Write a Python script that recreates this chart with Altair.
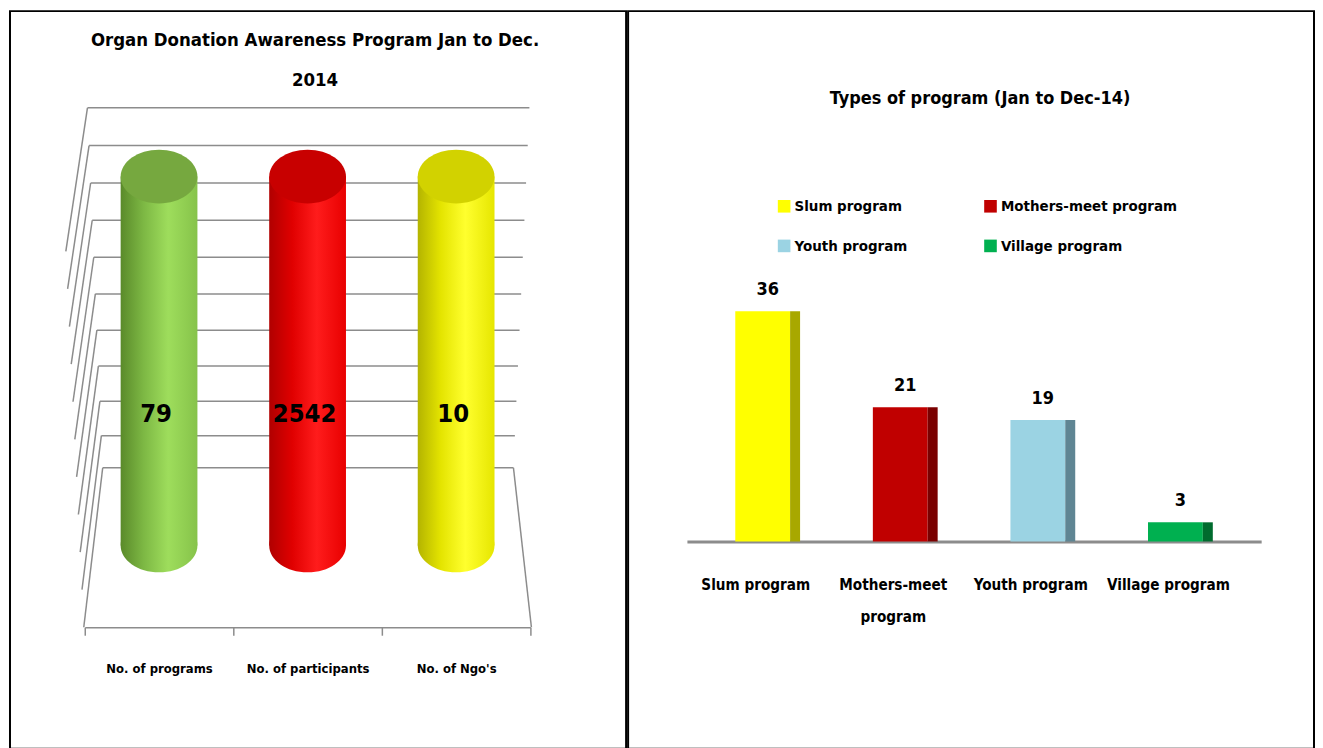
import altair as alt
import pandas as pd

FONT = "DejaVu Sans Condensed, DejaVu Sans, sans-serif"
GRID = "#8C8C8C"

# ---------------- left chart data ----------------
left_title = "Organ Donation Awareness Program Jan to Dec.\n2014"
left_categories = ["No. of programs", "No. of participants", "No. of Ngo's"]
left_values = [79, 2542, 10]
left_share = [100, 100, 100]          # each cylinder is 100 % of its own column
left_body_stops = [
    [(0, "#5A8A2A"), (0.3, "#7DB844"), (0.62, "#9EDD5C"), (1, "#86C34A")],
    [(0, "#B00000"), (0.3, "#E00000"), (0.62, "#FF1C1C"), (1, "#E80000")],
    [(0, "#B4B400"), (0.3, "#E4E400"), (0.62, "#FFFF2E"), (1, "#E6E600")],
]
left_cap_colors = ["#76A83F", "#C80000", "#D2D200"]
wall_levels = [100, 90, 80, 70, 60, 50, 40, 30, 20, 10, 0]

# ---------------- right chart data ----------------
right_title = "Types of program (Jan to Dec-14)"
right_categories = ["Slum program", "Mothers-meet program", "Youth program", "Village program"]
right_values = [36, 21, 19, 3]
right_colors = ["#FFFF00", "#C00000", "#9BD3E3", "#00B050"]
right_side_colors = ["#A8A800", "#7A0000", "#5F8593", "#006B2E"]

ELLIPSE = ("M-1,0C-1,-0.3866,-0.5523,-0.7,0,-0.7C0.5523,-0.7,1,-0.3866,1,0"
           "C1,0.3866,0.5523,0.7,0,0.7C-0.5523,0.7,-1,0.3866,-1,0Z")


def grad(stops):
    return {"gradient": "linear", "x1": 0, "x2": 1, "y1": 0, "y2": 0,
            "stops": [{"offset": o, "color": c} for o, c in stops]}


# ================= LEFT PANEL =================
left_df = pd.DataFrame({"category": left_categories, "value": left_values,
                        "share": left_share})
lx_scale = alt.Scale(domain=left_categories, range=[75, 522], paddingInner=0, paddingOuter=0)
ly_scale = alt.Scale(domain=[0, 100], range=[536, 166])

left_axis = alt.Axis(title=None, offset=-122, domainColor=GRID, domainWidth=1.5,
                     tickColor=GRID, tickWidth=1.5, tickSize=8, tickBand="extent",
                     labelFont=FONT, labelFontSize=13, labelFontWeight="bold",
                     labelColor="black", labelPadding=27, labelAngle=0, grid=False)


def lx(axis=None):
    return alt.X("category:N", scale=lx_scale, sort=left_categories, axis=axis)


lbase = alt.Chart(left_df).transform_calculate(base="0", mid="datum.share / 2")

wall_df = pd.DataFrame({"level": wall_levels})
wall = alt.Chart(wall_df).transform_calculate(
    p="pow(datum.level / 100, 1.05)", i="(100 - datum.level) / 10"
).transform_calculate(
    yy="458 - 361 * datum.p", xl="93 - 15.3 * datum.p", xr="505 + 16 * datum.p",
    ex="56 + 1.8 * datum.i", ey="241 + 37.7 * datum.i"
)
wall_h = wall.mark_rule(color=GRID, strokeWidth=1.5).encode(
    x=alt.X("xl:Q", scale=None, axis=None), x2="xr:Q",
    y=alt.Y("yy:Q", scale=None, axis=None))
wall_d = wall.mark_rule(color=GRID, strokeWidth=1.5).encode(
    x=alt.X("xl:Q", scale=None, axis=None), x2="ex:Q",
    y=alt.Y("yy:Q", scale=None, axis=None), y2="ey:Q")
floor_r = alt.Chart(pd.DataFrame({"a": [0]})).mark_rule(color=GRID, strokeWidth=1.5).encode(
    x=alt.value(505), y=alt.value(458), x2=alt.value(523), y2=alt.value(618))

left_layers = [wall_h, wall_d, floor_r]
for k, cat in enumerate(left_categories):
    sub = lbase.transform_filter(alt.datum.category == cat)
    g = grad(left_body_stops[k])
    bottom = sub.mark_point(shape=ELLIPSE, size=77 ** 2, filled=True, fill=g,
                            strokeWidth=0, opacity=1).encode(
        x=lx(), y=alt.Y("base:Q", scale=ly_scale, axis=None))
    body = sub.mark_bar(width=77, fill=g, strokeWidth=0).encode(
        x=lx(left_axis if k == 0 else None), y=alt.Y("share:Q", scale=ly_scale, axis=None))
    cap = sub.mark_point(shape=ELLIPSE, size=77 ** 2, filled=True,
                         fill=left_cap_colors[k], strokeWidth=0, opacity=1).encode(
        x=lx(), y=alt.Y("share:Q", scale=ly_scale, axis=None))
    left_layers += [bottom, body, cap]

left_labels = lbase.mark_text(font=FONT, fontSize=25.5, fontWeight="bold", color="black",
                              baseline="alphabetic", dy=61, xOffset=-3).encode(
    x=lx(), y=alt.Y("mid:Q", scale=ly_scale, axis=None), text="value:Q")
left_title_mark = alt.Chart(pd.DataFrame({"t": [left_title]})).mark_text(
    font=FONT, fontSize=18.5, fontWeight="bold", color="black", align="center",
    baseline="alphabetic", lineBreak="\n", lineHeight=40).encode(
    x=alt.value(306), y=alt.value(35), text="t:N")
left_layers += [left_labels, left_title_mark]

left = alt.layer(*left_layers).resolve_scale(x="independent", y="independent").properties(
    width=618, height=740)

# ================= RIGHT PANEL =================
right_df = pd.DataFrame({"category": right_categories, "value": right_values})
rx = alt.X("category:N", sort=right_categories,
           scale=alt.Scale(domain=right_categories, range=[59, 635],
                           paddingInner=0, paddingOuter=0.087),
           axis=alt.Axis(title=None, offset=-208, domainColor=GRID, domainWidth=3,
                         ticks=False, labelPadding=36, labelOffset=-12, labelAngle=0,
                         labelFont=FONT, labelFontSize=15.2, labelFontWeight="bold",
                         labelColor="black", labelLineHeight=32, grid=False,
                         labelExpr="datum.label == 'Mothers-meet program' ? "
                                   "['Mothers-meet', 'program'] : datum.label"))
ry = alt.Y("value:Q", scale=alt.Scale(domain=[0, 40], range=[532, 275.3]), axis=None)

front = alt.Chart(right_df).mark_bar(width=55, xOffset=-5, opacity=1).encode(
    x=rx, y=ry,
    color=alt.Color("category:N",
                    scale=alt.Scale(domain=right_categories, range=right_colors),
                    legend=alt.Legend(title=None, orient="none", legendX=149, legendY=188,
                                      direction="horizontal", columns=2,
                                      columnPadding=75, rowPadding=24,
                                      symbolType="square", symbolSize=160,
                                      symbolStrokeWidth=0, symbolOpacity=1,
                                      labelFont=FONT, labelFontSize=15,
                                      labelFontWeight="bold", labelColor="black",
                                      labelOffset=3, labelLimit=400, padding=0)))
side = alt.Chart(right_df).mark_bar(width=10, xOffset=27.5, opacity=1).encode(
    x=rx, y=ry,
    fill=alt.Fill("category:N",
                  scale=alt.Scale(domain=right_categories, range=right_side_colors),
                  legend=None))
rlabels = alt.Chart(right_df).mark_text(font=FONT, fontSize=18, fontWeight="bold",
                                        color="black", baseline="alphabetic", dy=-16).encode(
    x=rx, y=ry, text="value:Q")
rtitle = alt.Chart(pd.DataFrame({"t": [right_title]})).mark_text(
    font=FONT, fontSize=18, fontWeight="bold", color="black", align="center",
    baseline="alphabetic").encode(x=alt.value(353), y=alt.value(93), text="t:N")

right = alt.layer(front, side, rlabels, rtitle).properties(width=688, height=740)

chart = alt.hconcat(left, right, spacing=0).resolve_scale(
    color="independent", fill="independent"
).properties(
    padding={"left": 1, "top": 1, "right": 0, "bottom": 0},
    background="white",
).configure_view(stroke="black", strokeWidth=2, fill="white")

chart.save("out.html", embed_options={"renderer": "svg", "actions": False})
